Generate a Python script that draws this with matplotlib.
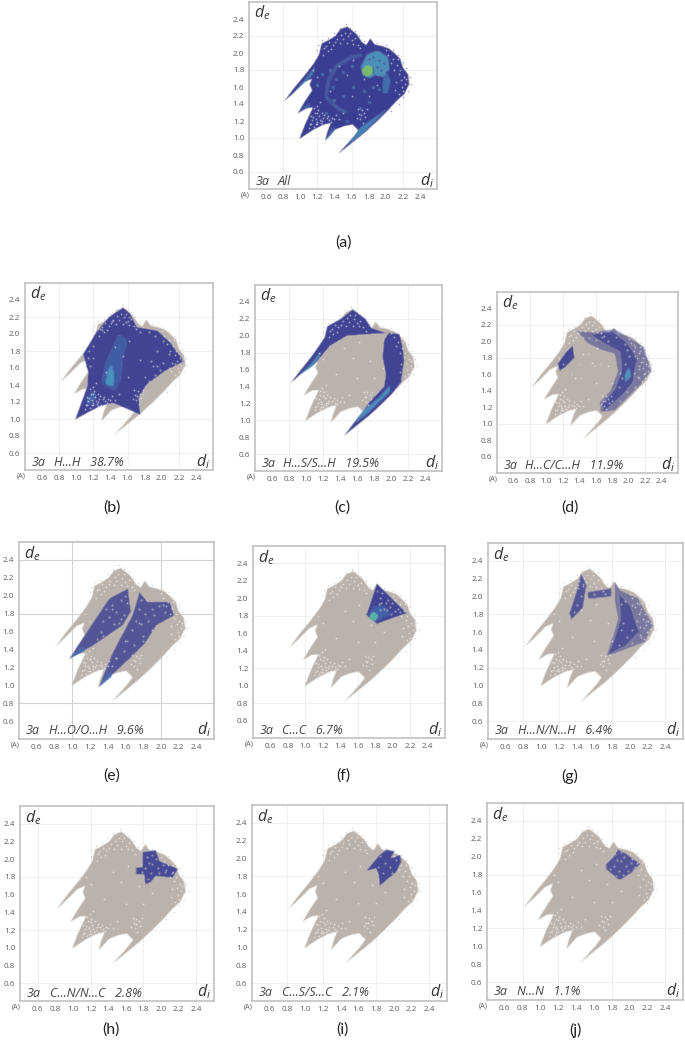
import numpy as np
import matplotlib
matplotlib.use('Agg')
import matplotlib.pyplot as plt
from matplotlib.patches import Polygon

plt.rcParams['font.family'] = ['Open Sans', 'DejaVu Sans']
plt.rcParams['mathtext.fontset'] = 'custom'
plt.rcParams['mathtext.it'] = 'Open Sans:italic'

W, H = 685, 1045
TICKS = [0.6, 0.8, 1.0, 1.2, 1.4, 1.6, 1.8, 2.0, 2.2, 2.4]
GREY = '#bab2ac'
BLUE = '#3a3e92'
MID = '#3f6fb2'
CYAN = '#4aa8c8'
GREEN = '#7cc068'

# fingerprint outline, (di, de)
OUTLINE = [(0.81, 1.43), (0.93, 1.59), (1.07, 1.76), (1.16, 1.88), (1.22, 1.98), (1.25, 2.11),
           (1.33, 2.15), (1.41, 2.2), (1.47, 2.28), (1.55, 2.31), (1.6, 2.27), (1.66, 2.22),
           (1.72, 2.13), (1.77, 2.09), (1.82, 2.17), (1.87, 2.1), (1.96, 2.08), (2.04, 2.05),
           (2.1, 2.0), (2.17, 1.93), (2.2, 1.83), (2.26, 1.75), (2.27, 1.63), (2.22, 1.52),
           (2.13, 1.44), (2.03, 1.33), (1.9, 1.2), (1.76, 1.07), (1.6, 0.94), (1.44, 0.81),
           (1.54, 0.92), (1.63, 1.02), (1.68, 1.09), (1.61, 1.16), (1.51, 1.14), (1.41, 1.1),
           (1.29, 0.97), (1.32, 1.08), (1.36, 1.18), (1.26, 1.15), (1.14, 1.09), (0.99, 0.99),
           (1.06, 1.17), (1.15, 1.36), (1.07, 1.35), (0.97, 1.29), (1.06, 1.44), (1.14, 1.56),
           (1.11, 1.63), (1.14, 1.7), (1.05, 1.66), (0.93, 1.54)]

# pale dots that show through the cloud
SPECKLES = [(1.1, 1.12), (1.13, 1.17), (1.16, 1.13), (1.18, 1.22), (1.2, 1.16), (1.22, 1.26), (1.24, 1.18),
            (1.17, 1.3), (1.21, 1.33), (1.26, 1.2), (1.29, 1.17), (1.31, 1.23), (1.34, 1.21), (1.37, 1.24),
            (1.4, 1.22), (1.19, 1.38), (1.23, 1.21), (1.28, 1.27), (1.14, 1.21), (1.12, 1.26),
            (1.11, 1.16), (1.15, 1.25), (1.19, 1.19), (1.25, 1.15), (1.27, 1.23), (1.33, 1.26), (1.36, 1.19),
            (1.42, 1.27), (1.2, 1.29), (1.16, 1.35), (1.23, 1.42), (1.25, 1.3), (1.45, 1.22), (1.18, 1.16),
            (1.69, 1.28), (1.72, 1.33), (1.75, 1.3), (1.7, 1.22), (1.73, 1.18), (1.76, 1.25),
            (1.68, 1.34), (1.66, 1.24), (1.78, 1.34), (1.71, 1.27),
            (1.3, 2.08), (1.34, 2.13), (1.38, 2.1), (1.43, 2.17), (1.48, 2.21), (1.52, 2.24), (1.56, 2.2),
            (1.6, 2.15), (1.64, 2.18), (1.67, 2.1), (1.55, 2.12), (1.47, 2.12), (1.27, 1.98), (1.32, 2.02),
            (1.28, 2.06), (1.36, 2.05), (1.41, 2.13), (1.5, 2.16), (1.58, 2.24), (1.62, 2.11), (1.7, 2.06),
            (2.03, 1.98), (2.08, 1.93), (2.13, 1.86), (2.17, 1.8), (2.21, 1.72), (2.23, 1.64), (2.19, 1.6),
            (2.15, 1.75), (2.2, 1.55), (2.1, 1.8), (2.16, 1.52), (2.06, 1.88), (2.18, 1.68), (2.12, 1.66),
            (2.24, 1.7), (2.14, 1.93), (2.11, 1.57), (2.0, 2.03),
            (1.2, 1.72), (1.45, 1.85), (1.15, 1.8), (1.6, 1.5), (1.55, 1.74), (1.35, 1.55), (1.8, 1.5),
            (1.5, 1.3), (1.9, 1.62), (1.62, 1.92), (1.75, 1.7)]
# stray dots just outside the outline
FUZZ = [(1.26, 2.15), (1.33, 2.18), (1.4, 2.24), (1.46, 2.3), (1.53, 2.34), (1.58, 2.3), (1.64, 2.26), (1.69, 2.2),
        (1.74, 2.14), (1.9, 2.12), (2.0, 2.09), (2.08, 2.04), (2.14, 1.98), (2.2, 1.9), (2.24, 1.82), (2.28, 1.72),
        (2.3, 1.64), (2.26, 1.55), (2.2, 1.48), (1.2, 2.04), (1.21, 2.1), (2.15, 1.4), (2.06, 1.32)]
DOTS_F = [(1.85, 2.0), (1.88, 2.06), (1.92, 1.95), (1.97, 1.9), (2.03, 1.86), (1.84, 1.93), (1.9, 1.88), (1.98, 1.82),
          (1.82, 2.08), (2.08, 1.84), (1.95, 1.98), (1.87, 1.95), (1.93, 1.87), (1.99, 1.95), (1.86, 1.87)]
# gaps in the sparse blue areas, grey shows through
DOTS_B = [(1.85, 1.45), (1.92, 1.52), (1.98, 1.58), (1.8, 1.38), (1.76, 1.2), (1.78, 1.3), (2.08, 1.6), (2.15, 1.65),
          (1.95, 1.62), (2.02, 1.66), (1.88, 1.68), (1.75, 2.02), (1.85, 2.02), (1.92, 1.98), (2.02, 1.92), (1.16, 1.62),
          (1.14, 1.72), (1.2, 1.86), (1.3, 2.05), (1.42, 2.15), (1.58, 2.14), (1.62, 2.2), (1.95, 1.8), (2.08, 1.76)]
DOTS_D = [(1.45, 2.05), (1.52, 2.04), (1.6, 2.02), (1.68, 2.05), (1.75, 2.0), (1.85, 2.05), (1.95, 1.97), (2.06, 1.96),
          (2.14, 1.88), (2.18, 1.75), (2.12, 1.7), (2.2, 1.62), (2.13, 1.55), (2.06, 1.62), (2.0, 1.82), (1.95, 1.72),
          (2.08, 1.45), (1.98, 1.38), (1.9, 1.28), (1.8, 1.28), (1.88, 1.45), (1.92, 1.55), (1.98, 1.9), (2.08, 1.82),
          (1.42, 1.55), (1.5, 1.85), (1.58, 1.7), (1.3, 1.6), (1.4, 1.72), (1.65, 1.72)]
DOTS_E = [(1.45, 1.9), (1.5, 1.82), (1.55, 1.95), (1.58, 1.78), (1.42, 1.76), (1.35, 1.72), (1.47, 1.68), (1.53, 1.7),
          (1.6, 2.0), (1.38, 1.85), (1.32, 1.6), (1.28, 1.52), (1.78, 1.95), (1.82, 1.8), (1.9, 1.85), (1.98, 1.88),
          (2.05, 1.82), (2.02, 1.9), (1.72, 1.72), (1.68, 1.62), (1.78, 1.68), (1.62, 1.5), (1.7, 1.45), (1.8, 1.55),
          (1.58, 1.38), (1.5, 1.3), (1.86, 1.72), (1.92, 1.78), (1.75, 1.85), (1.55, 1.6)]
DOTS_G = [(1.42, 2.1), (1.45, 2.0), (1.4, 1.9), (1.37, 1.83), (1.47, 2.14), (1.95, 1.95), (2.03, 1.9), (2.12, 1.82),
          (2.18, 1.72), (2.2, 1.6), (2.13, 1.55), (2.08, 1.72), (2.03, 1.62), (1.9, 1.92), (1.92, 1.7), (1.97, 1.55),
          (1.88, 1.45), (2.03, 1.48), (2.1, 1.92), (2.16, 1.65), (1.6, 2.03), (1.72, 2.03)]
DOTS_HIJ = [(1.84, 2.03), (1.9, 1.95), (1.96, 1.9), (2.05, 1.86), (2.12, 1.84), (1.88, 1.84), (1.98, 1.84), (1.82, 1.9),
            (1.9, 2.05), (1.78, 1.86), (1.85, 1.78), (1.94, 2.0), (2.02, 1.93), (1.86, 1.96), (1.93, 1.8)]

# panel a: hot spots on top of the full blue cloud
A_RING = [(1.71, 1.84), (1.78, 1.98), (1.9, 2.03), (2.02, 1.96), (2.05, 1.82), (1.97, 1.72), (1.87, 1.74), (1.81, 1.7), (1.73, 1.74)]
A_GREEN = [(1.72, 1.8), (1.78, 1.86), (1.85, 1.83), (1.85, 1.76), (1.79, 1.72), (1.74, 1.75)]
A_TOP = [(0.92, 1.53), (1.04, 1.67), (1.18, 1.85), (1.14, 1.74), (1.02, 1.62)]
A_LOW = [(1.55, 0.91), (1.75, 1.07), (2.02, 1.35), (1.9, 1.26), (1.7, 1.12)]
A_SIDE = [(1.96, 1.52), (2.02, 1.52), (2.06, 1.68), (2.0, 1.78), (1.96, 1.65)]
A_ARC = [(1.3, 1.48), (1.33, 1.68), (1.43, 1.85), (1.6, 1.95), (1.72, 1.98)]
A_ARC2 = [(1.3, 1.48), (1.45, 1.34), (1.55, 1.3)]
A_TIP = [(1.31, 0.98), (1.42, 1.12), (1.36, 1.1)]
A_TIP2 = [(0.98, 1.3), (1.12, 1.42), (1.1, 1.36)]
A_MOTTLE = [(1.35, 1.8), (1.42, 1.7), (1.38, 1.6), (1.5, 1.78), (1.6, 1.85), (1.4, 1.45), (1.5, 1.5), (1.62, 1.6), (1.7, 1.35),
            (1.8, 1.42), (1.85, 1.6), (1.92, 1.58), (1.75, 1.55), (1.25, 1.75), (1.2, 1.62), (1.3, 1.3), (1.55, 1.2)]
A_RING_DOTS = [(1.92, 1.92), (1.98, 1.88), (1.85, 1.95), (1.95, 1.8), (1.9, 1.84), (2.0, 1.78), (1.8, 1.93)]

B_BLUE = [(1.55, 2.31), (1.38, 2.2), (1.22, 2.0), (1.08, 1.76), (1.14, 1.56), (1.13, 1.39), (0.99, 1.0), (1.28, 1.15),
          (1.43, 1.19), (1.75, 1.05), (1.73, 1.25), (1.83, 1.41), (2.03, 1.56), (2.26, 1.68), (2.1, 1.9), (1.95, 2.04),
          (1.71, 2.08), (1.63, 2.24)]
B_MID = [(1.3, 1.42), (1.45, 1.33), (1.52, 1.47), (1.54, 1.72), (1.6, 1.92), (1.5, 2.0), (1.42, 1.82), (1.34, 1.65)]
B_CORE = [(1.34, 1.42), (1.43, 1.38), (1.45, 1.52), (1.41, 1.64), (1.37, 1.56)]
B_LOW = [(1.12, 1.14), (1.24, 1.26), (1.2, 1.32), (1.13, 1.24)]

C_LEFT = [(0.82, 1.44), (1.07, 1.76), (1.22, 1.98), (1.25, 2.11), (1.41, 2.2), (1.55, 2.31), (1.7, 2.2), (1.77, 2.09),
          (1.95, 2.03), (1.75, 2.02), (1.48, 2.0), (1.28, 1.88), (1.1, 1.66), (0.93, 1.54)]
C_RIGHT = [(1.45, 0.82), (1.76, 1.07), (2.0, 1.3), (2.12, 1.45), (2.15, 1.7), (2.14, 1.85), (2.1, 2.02), (1.97, 2.03),
           (1.92, 1.95), (1.9, 1.75), (1.94, 1.55), (1.92, 1.4), (1.75, 1.22), (1.68, 1.12), (1.6, 1.02)]
C_LEFT_LIGHT = [(0.92, 1.53), (1.05, 1.66), (1.18, 1.82), (1.16, 1.74), (1.05, 1.62)]
C_RIGHT_LIGHT = [(1.58, 0.97), (1.72, 1.08), (1.98, 1.33), (2.0, 1.42), (1.85, 1.26), (1.68, 1.12)]

D_ARC = [(1.37, 2.13), (1.58, 2.11), (1.83, 2.15), (2.03, 2.03), (2.19, 1.93), (2.27, 1.64), (2.15, 1.48), (2.03, 1.36),
         (1.83, 1.16), (1.66, 1.14), (1.65, 1.26), (1.78, 1.4), (1.87, 1.64), (1.83, 1.85), (1.66, 1.9), (1.5, 1.98)]
D_BLOB = [(1.14, 1.73), (1.24, 1.87), (1.32, 1.95), (1.34, 1.8), (1.22, 1.68), (1.16, 1.64)]
D_DENSE = [(1.55, 2.08), (1.8, 2.12), (1.98, 1.98), (2.1, 1.8), (2.05, 1.5), (1.92, 1.35), (1.7, 1.15), (1.68, 1.24), (1.84, 1.42),
           (1.92, 1.65), (1.9, 1.88), (1.7, 1.98)]
D_LIGHT = [(1.95, 1.5), (2.03, 1.58), (2.0, 1.68), (1.96, 1.6)]

E_LEFT = [(0.97, 1.3), (1.27, 1.75), (1.42, 1.97), (1.63, 2.08), (1.66, 1.82), (1.57, 1.67), (1.23, 1.44)]
E_RIGHT = [(1.3, 0.98), (1.46, 1.37), (1.68, 1.78), (1.76, 2.04), (1.85, 1.93), (2.1, 1.93), (2.15, 1.78), (1.95, 1.67), (1.83, 1.48), (1.65, 1.3)]
E_TIP_L = [(0.97, 1.3), (1.12, 1.43), (1.14, 1.38)]
E_TIP_R = [(1.3, 0.98), (1.42, 1.15), (1.45, 1.1)]

F_TRI = [(1.82, 2.17), (2.16, 1.83), (1.82, 1.71), (1.7, 1.81)]
F_MID = [(1.72, 1.8), (1.8, 1.92), (1.9, 1.92), (1.98, 1.82), (1.82, 1.74)]
F_CORE = [(1.73, 1.8), (1.78, 1.85), (1.84, 1.8), (1.8, 1.74), (1.75, 1.75)]

G_TALL = [(1.45, 2.26), (1.51, 2.13), (1.47, 1.87), (1.34, 1.74), (1.32, 1.81), (1.4, 2.06)]
G_BAR = [(1.53, 2.05), (1.79, 2.09), (1.79, 2.0), (1.6, 1.98), (1.53, 1.98)]
G_RIGHT = [(1.83, 2.17), (1.89, 2.07), (2.09, 1.98), (2.26, 1.68), (2.17, 1.49), (1.83, 1.36), (1.74, 1.34), (1.79, 1.49), (1.87, 1.75), (1.83, 1.94)]
G_DENSE = [(1.88, 2.02), (2.0, 1.9), (2.1, 1.6), (1.95, 1.45), (1.76, 1.35), (1.82, 1.5), (1.9, 1.75)]

H_BLUE = [(1.79, 2.08), (1.94, 2.1), (1.98, 1.98), (2.19, 1.89), (2.13, 1.79), (1.94, 1.81), (1.88, 1.74), (1.82, 1.72),
          (1.81, 1.83), (1.72, 1.83), (1.72, 1.91), (1.79, 1.91)]
I_BLUE = [(1.69, 1.86), (1.84, 2.04), (1.92, 2.1), (2.01, 2.08), (1.96, 2.0), (2.07, 2.04), (2.08, 1.96), (2.03, 1.85),
          (1.92, 1.76), (1.84, 1.69), (1.83, 1.82), (1.8, 1.89)]
J_BLUE = [(1.87, 2.08), (1.95, 2.04), (2.12, 1.92), (2.02, 1.82), (1.91, 1.75), (1.87, 1.75), (1.74, 1.86), (1.74, 1.92), (1.82, 2.0)]

PANEL_LABELS = ['All', 'H...H   38.7%', 'H...S/S...H   19.5%', 'H...C/C...H   11.9%', 'H...O/O...H   9.6%',
                'C...C   6.7%', 'H...N/N...H   6.4%', 'C...N/N...C   2.8%', 'C...S/S...C   2.1%', 'N...N   1.1%']
CAPTIONS = ['(a)', '(b)', '(c)', '(d)', '(e)', '(f)', '(g)', '(h)', '(i)', '(j)']


def soft(sigma):
    # small gaussian blur used as agg filter, the source is a blurry scan
    def apply(img, dpi):
        pad = int(sigma * 3) + 1
        out = np.pad(img, [(pad, pad), (pad, pad), (0, 0)], 'constant')
        x = np.arange(-pad, pad + 1)
        k = np.exp(-x ** 2 / (2.0 * sigma ** 2))
        k = k / k.sum()
        out = np.apply_along_axis(lambda v: np.convolve(v, k, mode='same'), 0, out)
        out = np.apply_along_axis(lambda v: np.convolve(v, k, mode='same'), 1, out)
        return out, -pad, -pad
    return apply


def add_area(ax, pts, color, alpha=1.0, sigma=0.6, z=3):
    p = Polygon(pts, closed=True, fc=color, ec='none', alpha=alpha, zorder=z)
    p.set_agg_filter(soft(sigma))
    ax.add_patch(p)


def add_stroke(ax, pts, color, lw, alpha=1.0, sigma=1.0):
    xs = [q[0] for q in pts]
    ys = [q[1] for q in pts]
    line, = ax.plot(xs, ys, color=color, lw=lw, alpha=alpha, zorder=5, solid_capstyle='round')
    line.set_agg_filter(soft(sigma))


def add_dots(ax, pts, color='white', size=1.6, alpha=0.85, z=7):
    xs = [q[0] for q in pts]
    ys = [q[1] for q in pts]
    sc = ax.scatter(xs, ys, s=size, c=color, linewidths=0, alpha=alpha, zorder=z)
    sc.set_agg_filter(soft(0.45))


def setup_panel(box, name, gx, gy, strong=False):
    left, right, top, bottom = box
    ax = fig.add_axes([left / W, 1 - bottom / H, (right - left) / W, (bottom - top) / H])
    ax.set_xlim(0.4, 2.6)
    ax.set_ylim(0.4, 2.6)
    ax.set_xticks(TICKS)
    ax.set_yticks(TICKS)
    ax.set_xticklabels(['%.1f' % t for t in TICKS])
    ax.set_yticklabels(['%.1f' % t for t in TICKS])
    ax.tick_params(length=0, labelsize=5.9, labelcolor='#5c5c5c', pad=3.4)
    for s in ax.spines.values():
        s.set_color('#bcbcbc')
        s.set_linewidth(1.1)
    grid_col = '#d2d2d2' if strong else '#f0f0f0'
    for g in gx:
        ax.axvline(g, color=grid_col, lw=0.8, zorder=1)
    for g in gy:
        ax.axhline(g, color=grid_col, lw=0.8, zorder=1)
    ax.text(0.48, 0.49, '3a', style='italic', fontsize=9, color='#444444', va='center')
    ax.text(0.735, 0.49, name, style='italic', fontsize=9, color='#444444', va='center')
    ax.text(0.46, 2.47, r'$d_e$', fontsize=11.5, color='#333333', va='center')
    ax.text(2.57, 0.5, r'$d_i$', fontsize=11.5, color='#333333', va='center', ha='right')
    ax.annotate('(A)', xy=(0, 0), xycoords='axes fraction', xytext=(-3, -4.6), textcoords='offset points',
                fontsize=5.2, color='#5c5c5c', ha='center', va='center')
    return ax


fig = plt.figure(figsize=(W / 100, H / 100), dpi=100, facecolor='white')

boxes = [(249, 437, 2, 189), (25, 213, 283, 470), (255, 442, 285, 471), (497, 678, 292, 473), (19, 214, 542, 739),
         (253, 445, 546, 738), (488, 683, 543, 739), (20, 214, 806, 1001), (252, 447, 805, 1001), (487, 683, 803, 1000)]
caption_pos = [(343, 243), (112, 508), (342, 508), (570, 508), (112, 776), (343, 776), (570, 776), (111, 1030), (342, 1030), (575, 1030)]

layers = [
    [(OUTLINE, BLUE, 1.0), (A_RING, '#4f9dbd', 0.85), (A_GREEN, GREEN, 0.95), (A_TOP, CYAN, 0.6), (A_LOW, CYAN, 0.65), (A_SIDE, CYAN, 0.45), (A_TIP, MID, 0.8), (A_TIP2, MID, 0.8)],
    [(B_BLUE, BLUE, 0.95), (B_MID, MID, 0.6), (B_CORE, CYAN, 0.7), (B_LOW, MID, 0.8)],
    [(C_LEFT, BLUE, 0.95), (C_RIGHT, BLUE, 0.95), (C_LEFT_LIGHT, CYAN, 0.7), (C_RIGHT_LIGHT, CYAN, 0.75)],
    [(D_ARC, BLUE, 0.5), (D_DENSE, BLUE, 0.7), (D_BLOB, BLUE, 0.9), (D_LIGHT, CYAN, 0.8)],
    [(E_LEFT, BLUE, 0.8), (E_RIGHT, BLUE, 0.8), (E_TIP_L, MID, 0.9), (E_TIP_R, MID, 0.9)],
    [(F_TRI, BLUE, 0.95), (F_MID, MID, 0.7), (F_CORE, '#58b6a8', 0.95)],
    [(G_TALL, BLUE, 0.8), (G_BAR, BLUE, 0.75), (G_RIGHT, BLUE, 0.5), (G_DENSE, BLUE, 0.65)],
    [(H_BLUE, BLUE, 0.9)],
    [(I_BLUE, BLUE, 0.9)],
    [(J_BLUE, BLUE, 0.8)],
]
gaps = [[], DOTS_B, [], DOTS_D, DOTS_E, DOTS_F, DOTS_G, DOTS_HIJ, DOTS_HIJ[:8], DOTS_HIJ]
grids_x = [[0.8, 1.2, 1.6, 2.2]] * 4 + [[1.0, 2.0], [1.0, 1.6, 2.2], [0.8, 1.2, 1.8, 2.4], [0.6, 1.2, 1.8, 2.4], [0.8, 1.2, 1.8, 2.4], [0.8, 1.2, 1.8, 2.4]]
grids_y = [[0.6, 1.0, 1.8, 2.2]] * 4 + [[0.8, 1.8, 2.4], [0.8, 1.2, 1.8, 2.4], [0.6, 1.2, 1.8, 2.4], [0.6, 1.2, 1.8, 2.4], [0.6, 1.2, 1.8, 2.4], [0.6, 1.2, 1.8, 2.4]]

for i, box in enumerate(boxes):
    ax = setup_panel(box, PANEL_LABELS[i], grids_x[i], grids_y[i], strong=(i == 4))
    add_area(ax, OUTLINE, GREY, z=2)
    add_dots(ax, FUZZ, color=BLUE if i == 0 else GREY, size=1.0, z=2)
    for pts, color, alpha in layers[i]:
        add_area(ax, pts, color, alpha=alpha)
    if i == 0:
        add_stroke(ax, A_ARC, CYAN, 1.5, alpha=0.4)
        add_stroke(ax, A_ARC2, CYAN, 1.5, alpha=0.4)
        add_dots(ax, A_MOTTLE, color=CYAN, size=5, alpha=0.45, z=5)
        add_dots(ax, A_RING_DOTS, color=BLUE, size=5, alpha=0.5, z=6)
    add_dots(ax, SPECKLES, size=1.3, alpha=0.8)
    if gaps[i]:
        add_dots(ax, gaps[i], color='#cfc9c4', size=2.0, alpha=0.8)
    fig.text(caption_pos[i][0] / W, 1 - caption_pos[i][1] / H, CAPTIONS[i], fontsize=11.5, color='#222222',
             ha='center', va='center', family=['Lato', 'DejaVu Sans'])

fig.savefig('out.png', dpi=100)
